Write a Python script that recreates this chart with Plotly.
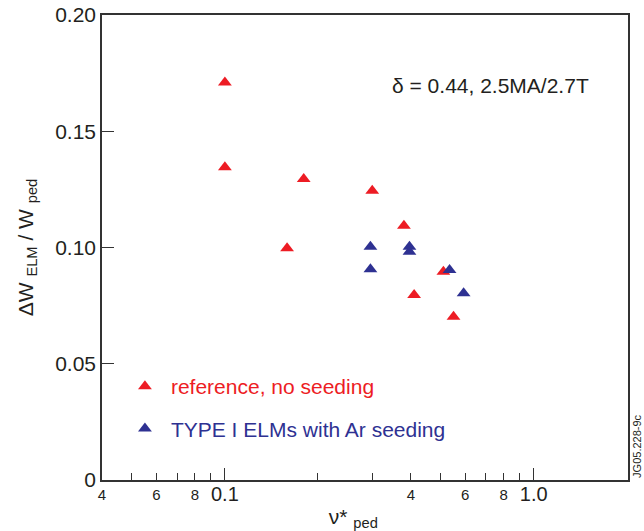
import math
import plotly.graph_objects as go

# ---- data ----
ref_x = [0.10, 0.10, 0.18, 0.159, 0.30, 0.38, 0.51, 0.41, 0.55]
ref_y = [0.171, 0.1345, 0.1295, 0.0997, 0.1244, 0.1094, 0.0896, 0.0796, 0.0702]
ar_x = [0.296, 0.296, 0.396, 0.396, 0.534, 0.593]
ar_y = [0.1003, 0.0906, 0.1003, 0.0982, 0.0903, 0.0803]

ref_name = "reference, no seeding"
ar_name = "TYPE I ELMs with Ar seeding"

x_small_vals = [0.04, 0.06, 0.08, 0.4, 0.6, 0.8]
x_small_text = ["4", "6", "8", "4", "6", "8"]
x_minor_vals = [0.05, 0.07, 0.09, 0.2, 0.3, 0.5, 0.7, 0.9]
x_big_vals = [0.1, 1.0]
x_big_text = ["0.1", "1.0"]
y_vals = [0, 0.05, 0.10, 0.15, 0.20]
y_text = ["0", "0.05", "0.10", "0.15", "0.20"]

x_range = [0.04, 2.02]
y_range = [0, 0.20]

RED = "#ed1c24"
BLUE = "#2e3192"
AX = "#333333"
FONT = "Liberation Sans, Arial, sans-serif"

fig = go.Figure()
fig.add_trace(go.Scatter(
    x=ref_x, y=ref_y, mode="markers",
    marker=dict(symbol="triangle-up", size=12, color=RED),
    name=f"<span style='color:{RED}'>{ref_name}</span>",
    legendgroup="a",
))
fig.add_trace(go.Scatter(
    x=ar_x, y=ar_y, mode="markers",
    marker=dict(symbol="triangle-up", size=12, color=BLUE),
    name=f"<span style='color:{BLUE}'>{ar_name}</span>",
    legendgroup="b",
))
# invisible trace to carry the overlay axis
fig.add_trace(go.Scatter(x=x_big_vals, y=[None, None], xaxis="x2", yaxis="y",
                         mode="markers", showlegend=False, hoverinfo="skip"))

lr = [math.log10(x_range[0]), math.log10(x_range[1])]

fig.update_layout(
    template="none",
    width=644, height=531,
    margin=dict(l=102, r=16, t=15, b=51),
    paper_bgcolor="white", plot_bgcolor="white",
    font=dict(family=FONT, size=21, color="#231f20"),
    showlegend=True,
    legend=dict(x=0.0322, y=0.245, xanchor="left", yanchor="top",
                bgcolor="rgba(0,0,0,0)", font=dict(size=21),
                tracegroupgap=12, itemsizing="trace", itemwidth=42),
    xaxis=dict(
        type="log", range=lr, automargin=False,
        tickmode="array", tickvals=x_small_vals, ticktext=x_small_text,
        ticks="inside", ticklen=7, tickwidth=1.3, tickcolor=AX,
        tickfont=dict(size=15),
        minor=dict(tickmode="array", tickvals=x_minor_vals, ticks="inside",
                   ticklen=7, tickwidth=1.3, tickcolor=AX, showgrid=False),
        showline=True, linecolor=AX, linewidth=1.5, mirror=True,
        showgrid=False, zeroline=False,
        title=dict(text="ν* <sub>ped</sub>&nbsp;&nbsp;&nbsp;&nbsp;", font=dict(size=21), standoff=8),
    ),
    xaxis2=dict(
        type="log", range=lr, overlaying="x", side="bottom", anchor="y", automargin=False,
        tickmode="array", tickvals=x_big_vals, ticktext=x_big_text,
        ticks="inside", ticklen=12, tickwidth=1.3, tickcolor=AX,
        tickfont=dict(size=20),
        showline=False, showgrid=False, zeroline=False,
    ),
    yaxis=dict(
        range=y_range, automargin=False,
        tickmode="array", tickvals=y_vals, ticktext=y_text,
        ticks="inside", ticklen=12, tickwidth=1.3, tickcolor=AX,
        tickfont=dict(size=21),
        showline=True, linecolor=AX, linewidth=1.5, mirror=True,
        showgrid=False, zeroline=False,
        title=dict(text="ΔW <sub>ELM</sub> / W <sub>ped</sub>", font=dict(size=21), standoff=16),
    ),
    annotations=[
        dict(text="δ = 0.44, 2.5MA/2.7T", xref="paper", yref="paper",
             x=0.738, y=0.849, xanchor="center", yanchor="middle",
             showarrow=False, font=dict(size=21, color="#231f20")),
        dict(text="JG05.228-9c", xref="paper", yref="paper",
             x=1.016, y=0.0, xanchor="center", yanchor="bottom", textangle=-90,
             showarrow=False, font=dict(size=11, color="#231f20")),
    ],
)

fig.write_html("out.html")
